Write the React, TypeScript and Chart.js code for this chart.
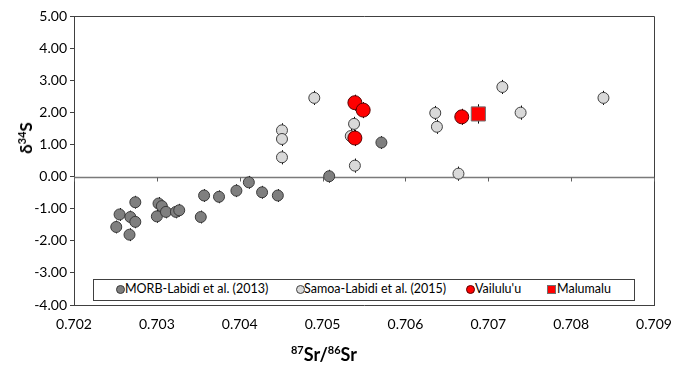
import React, { useEffect, useRef } from "react";
import { Chart, registerables } from "chart.js";

Chart.register(...registerables);

// ---- data ----
const xTickMin = 0.702;
const xTickMax = 0.709;
const yTickMin = -4;
const yTickMax = 5;

const morbX = [0.70255, 0.70251, 0.70267, 0.70268, 0.70274, 0.70274, 0.703, 0.70302, 0.70306, 0.70311, 0.70323, 0.70327, 0.70353, 0.70357, 0.70375, 0.70396, 0.70411, 0.70427, 0.70446, 0.70508, 0.70571];
const morbY = [-1.18, -1.57, -1.81, -1.26, -1.41, -0.8, -1.24, -0.84, -0.92, -1.1, -1.1, -1.05, -1.26, -0.59, -0.63, -0.44, -0.18, -0.49, -0.59, 0.01, 1.06];
const morbErr = 0.2;

const samoaX = [0.7049, 0.70451, 0.70451, 0.70451, 0.70538, 0.70534, 0.70539, 0.70636, 0.70638, 0.70664, 0.70717, 0.70739, 0.70839];
const samoaY = [2.45, 1.44, 1.17, 0.6, 1.64, 1.26, 0.34, 1.98, 1.55, 0.09, 2.79, 1.99, 2.45];
const samoaErr = 0.22;

const vailX = [0.70539, 0.70549, 0.70539, 0.70668];
const vailY = [2.3, 2.07, 1.2, 1.86];
const vailErr = 0.25;

const maluX = [0.70688];
const maluY = [1.95];
const maluErr = 0.3;

const seriesNames = ["MORB-Labidi et al. (2013)", "Samoa-Labidi et al. (2015)", "Vailulu'u", "Malumalu"];

const FONT = "Lato, 'Open Sans', sans-serif";

const toPts = (xs: number[], ys: number[]) => xs.map((x, i) => ({ x, y: ys[i] }));

export default function App() {
  const ref = useRef<HTMLCanvasElement | null>(null);

  useEffect(() => {
    document.body.style.margin = "0";
    const canvas = ref.current;
    if (!canvas) return;

    const errs = [morbErr, samoaErr, vailErr, maluErr];

    const decor = {
      id: "decor",
      beforeDatasetsDraw(chart: any) {
        const { ctx, chartArea, scales } = chart;
        const xs = scales.x;
        const ys = scales.y;
        ctx.save();
        // top and right border
        ctx.strokeStyle = "#404040";
        ctx.lineWidth = 1;
        ctx.beginPath();
        ctx.moveTo(chartArea.left, Math.round(chartArea.top) + 0.5);
        ctx.lineTo(Math.round(chartArea.right) + 0.5, Math.round(chartArea.top) + 0.5);
        ctx.lineTo(Math.round(chartArea.right) + 0.5, chartArea.bottom);
        ctx.stroke();
        // zero line with ticks
        const y0 = Math.round(ys.getPixelForValue(0)) + 0.5;
        ctx.strokeStyle = "#7a7a7a";
        ctx.lineWidth = 1.5;
        ctx.beginPath();
        ctx.moveTo(chartArea.left, y0);
        ctx.lineTo(chartArea.right, y0);
        ctx.stroke();
        ctx.lineWidth = 1;
        ctx.strokeStyle = "#606060";
        xs.ticks.forEach((t: any) => {
          const px = Math.round(xs.getPixelForValue(t.value)) + 0.5;
          ctx.beginPath();
          ctx.moveTo(px, y0);
          ctx.lineTo(px, y0 + 4);
          ctx.stroke();
        });
        // error bars
        ctx.strokeStyle = "#000000";
        ctx.lineWidth = 1;
        chart.data.datasets.forEach((ds: any, di: number) => {
          const e = errs[di];
          ds.data.forEach((p: any) => {
            const px = Math.round(xs.getPixelForValue(p.x)) + 0.5;
            ctx.beginPath();
            ctx.moveTo(px, ys.getPixelForValue(p.y + e));
            ctx.lineTo(px, ys.getPixelForValue(p.y - e));
            ctx.stroke();
          });
        });
        ctx.restore();
      },
    };

    const chart = new Chart(canvas, {
      type: "scatter",
      data: {
        datasets: [
          {
            label: seriesNames[0],
            data: toPts(morbX, morbY),
            backgroundColor: "#7f7f7f",
            borderColor: "#3a3a3a",
            borderWidth: 1,
            pointRadius: 5.5,
            order: 4,
          },
          {
            label: seriesNames[1],
            data: toPts(samoaX, samoaY),
            backgroundColor: "#d9d9d9",
            borderColor: "#404040",
            borderWidth: 1,
            pointRadius: 5.5,
            order: 3,
          },
          {
            label: seriesNames[2],
            data: toPts(vailX, vailY),
            backgroundColor: "#ff0000",
            borderColor: "#5a0000",
            borderWidth: 1,
            pointRadius: 7,
            order: 2,
          },
          {
            label: seriesNames[3],
            data: toPts(maluX, maluY),
            backgroundColor: "#ff0000",
            borderColor: "#707070",
            borderWidth: 1,
            pointRadius: 10,
            pointStyle: "rect",
            order: 1,
          },
        ],
      },
      options: {
        animation: false,
        responsive: false,
        devicePixelRatio: 1,
        layout: { padding: { left: 0, top: 16, right: 21, bottom: 0 } },
        plugins: { legend: { display: false }, tooltip: { enabled: false } },
        scales: {
          x: {
            type: "linear",
            min: xTickMin,
            max: xTickMax,
            afterFit: (s: any) => {
              s.height = 62;
              s.paddingLeft = 0;
              s.paddingRight = 0;
            },
            ticks: {
              stepSize: 0.001,
              padding: 11,
              color: "#000",
              font: { family: FONT, size: 14 },
              callback: (v: any) => Number(v).toFixed(3),
            },
            grid: { drawOnChartArea: false, drawTicks: false },
            border: { display: true, color: "#404040", width: 1 },
          },
          y: {
            min: yTickMin,
            max: yTickMax,
            afterFit: (s: any) => {
              s.width = 74;
              s.paddingTop = 0;
              s.paddingBottom = 0;
            },
            ticks: {
              stepSize: 1,
              padding: 3,
              color: "#000",
              font: { family: FONT, size: 14 },
              callback: (v: any) => Number(v).toFixed(2),
            },
            grid: { drawOnChartArea: false, drawTicks: true, tickLength: 4, color: "#404040" },
            border: { display: true, color: "#404040", width: 1 },
          },
        },
      },
      plugins: [decor],
    } as any);

    return () => chart.destroy();
  }, []);

  const legendItems = [
    { name: seriesNames[0], marker: { background: "#7f7f7f", border: "1px solid #3a3a3a", borderRadius: "50%" }, mx: 120, tx: 125 },
    { name: seriesNames[1], marker: { background: "#d9d9d9", border: "1px solid #404040", borderRadius: "50%" }, mx: 300, tx: 304 },
    { name: seriesNames[2], marker: { background: "#ff0000", border: "1px solid #5a0000", borderRadius: "50%" }, mx: 470, tx: 475 },
    { name: seriesNames[3], marker: { background: "#ff0000", border: "1px solid #707070", borderRadius: "0" }, mx: 551, tx: 557 },
  ];

  return (
    <div style={{ position: "relative", width: 675, height: 367, fontFamily: FONT, background: "#fff" }}>
      <canvas ref={ref} width={675} height={367} style={{ width: 675, height: 367, display: "block" }} />
      <div
        style={{
          position: "absolute",
          left: 93,
          top: 279,
          width: 540,
          height: 20,
          border: "1px solid #404040",
          background: "#fff",
        }}
      />
      {legendItems.map((it) => (
        <React.Fragment key={it.name}>
          <div
            style={{
              position: "absolute",
              left: it.mx - 4.5,
              top: 289.5 - 4.5,
              width: 7,
              height: 7,
              ...it.marker,
            }}
          />
          <div
            style={{
              position: "absolute",
              left: it.tx,
              top: 281,
              fontSize: 12.5,
              lineHeight: "16px",
              whiteSpace: "nowrap",
              color: "#000",
            }}
          >
            {it.name}
          </div>
        </React.Fragment>
      ))}
      <div
        style={{
          position: "absolute",
          left: 324,
          top: 352,
          transform: "translate(-50%, -50%)",
          fontWeight: 700,
          fontSize: 18,
          whiteSpace: "nowrap",
          lineHeight: "22px",
        }}
      >
        <sup style={{ fontSize: 11, verticalAlign: "7px" }}>87</sup>Sr/<sup style={{ fontSize: 11, verticalAlign: "7px" }}>86</sup>Sr
      </div>
      <div
        style={{
          position: "absolute",
          left: 24,
          top: 138,
          transform: "translate(-50%, -50%) rotate(-90deg)",
          fontWeight: 700,
          fontSize: 17,
          whiteSpace: "nowrap",
          lineHeight: "20px",
        }}
      >
        δ<sup style={{ fontSize: 11, verticalAlign: "6px" }}>34</sup>S
      </div>
    </div>
  );
}
